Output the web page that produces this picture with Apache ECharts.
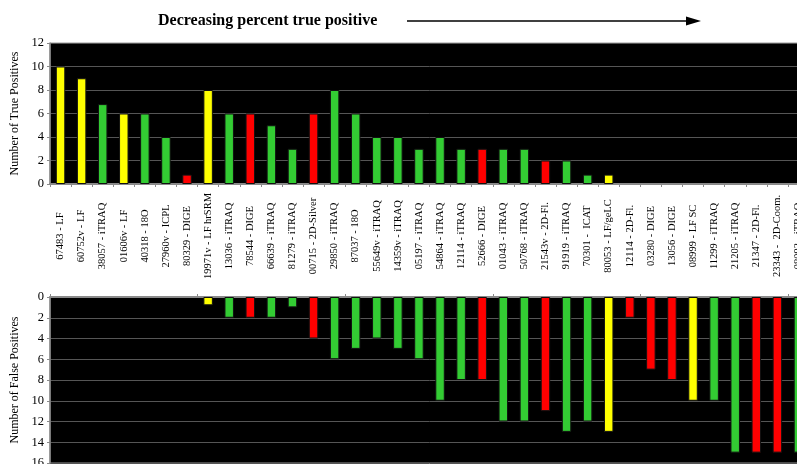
<!DOCTYPE html>
<html>
<head>
<meta charset="utf-8">
<script src="https://cdn.jsdelivr.net/npm/echarts@6/dist/echarts.min.js"></script>
<style>
html,body{margin:0;padding:0;background:#fff;overflow:hidden;width:797px;height:464px;}
#c{width:830px;height:470px;}
</style>
</head>
<body>
<div id="c"></div>
<script>
const categories = [
  "67483 - LF","60752v - LF","38057 - iTRAQ","01606v - LF","40318 - 18O","27960v - ICPL",
  "80329 - DIGE","19971v - LF hrSRM","13036 - iTRAQ","78544 - DIGE","66639 - iTRAQ","81279 - iTRAQ",
  "00715 - 2D-Silver","29850 - iTRAQ","87037 - 18O","55649v - iTRAQ","14359v - iTRAQ","05197 - iTRAQ",
  "54864 - iTRAQ","12114 - iTRAQ","52666 - DIGE","01043 - iTRAQ","50768 - iTRAQ","21543v - 2D-Fl.",
  "91919 - iTRAQ","70301 -  ICAT","80053 - LF/geLC","12114 - 2D-Fl.","03280 - DIGE","13056 - DIGE",
  "08999 - LF SC","11299 - iTRAQ","21205 - iTRAQ","21347 - 2D-Fl.","23343 -  2D-Coom.","08093 - iTRAQ"
];
const colorGroup = [
  "Y","Y","G","Y","G","G","R","Y","G","R","G","G",
  "R","G","G","G","G","G","G","G","R","G","G","R",
  "G","G","Y","R","R","R","Y","G","G","R","R","G"
];
const truePositives = [
  10,9,6.8,6,6,4,0.8,8,6,6,5,3,
  6,8,6,4,4,3,4,3,3,3,3,2,
  2,0.8,0.8,0,0,0,0,0,0,0,0,0
];
const falsePositives = [
  0,0,0,0,0,0,0,0.8,2,2,2,1,
  4,6,5,4,5,6,10,8,8,12,12,11,
  13,12,13,2,7,8,10,10,15,15,15,15
];
const topTicks = [0,2,4,6,8,10,12];
const bottomTicks = [0,2,4,6,8,10,12,14,16];

const palette = {Y:"#ffff00", G:"#33cc33", R:"#ff0000"};
const serif = "'Liberation Serif','DejaVu Serif',serif";

function mk(vals){
  return vals.map((v,i)=>({value:v, itemStyle:{color:palette[colorGroup[i]], borderWidth: v===0?0:1}}));
}

const chart = echarts.init(document.getElementById('c'), null, {renderer:'canvas'});
const axisGray = "#8a8a8a";
chart.setOption({
  animation:false,
  backgroundColor:"#fff",
  grid:[
    {left:50, top:43, width:759, height:141, backgroundColor:"#000", show:true, borderWidth:1, borderColor:"#999"},
    {left:50, top:297, width:759, height:166, backgroundColor:"#000", show:true, borderWidth:1, borderColor:"#999"}
  ],
  graphic:[
    {type:'text', left:158, top:13, style:{text:"Decreasing percent true positive", font:"bold 16px "+serif, fill:"#000"}},
    {type:'line', shape:{x1:407,y1:21,x2:692,y2:21}, style:{stroke:"#000", lineWidth:1.3}},
    {type:'polygon', shape:{points:[[701,21],[686,16.5],[686,25.5]]}, style:{fill:"#000"}}
  ],
  xAxis:[
    {gridIndex:0, type:'category', data:categories, boundaryGap:true,
     axisLine:{show:true, lineStyle:{color:axisGray, width:2}},
     axisTick:{show:true, length:3, lineStyle:{color:axisGray}},
     axisLabel:{show:true, interval:0, rotate:90, align:'center', verticalAlign:'middle', margin:52,
                fontFamily:serif, fontSize:10.5, color:"#000"},
     splitLine:{show:false}},
    {gridIndex:1, type:'category', data:categories, boundaryGap:true, position:'top',
     axisLine:{show:true, lineStyle:{color:axisGray, width:2}},
     axisTick:{show:true, length:3, lineStyle:{color:axisGray}},
     axisLabel:{show:false}, splitLine:{show:false}}
  ],
  yAxis:[
    {gridIndex:0, type:'value', min:0, max:12, interval:2,
     name:"Number of True Positives", nameLocation:'middle', nameGap:28, nameRotate:90,
     nameTextStyle:{fontFamily:serif, fontSize:12, color:"#000"},
     axisLine:{show:true, lineStyle:{color:axisGray, width:1.5}},
     axisTick:{show:true, length:3, lineStyle:{color:axisGray}},
     axisLabel:{fontFamily:serif, fontSize:12.5, color:"#000", margin:6,
                formatter:v=>topTicks.includes(v)?String(v):""},
     splitLine:{show:true, lineStyle:{color:"#555", width:1}}},
    {gridIndex:1, type:'value', min:0, max:16, interval:2, inverse:true,
     name:"Number of False Positives", nameLocation:'middle', nameGap:28, nameRotate:90,
     nameTextStyle:{fontFamily:serif, fontSize:12, color:"#000"},
     axisLine:{show:true, lineStyle:{color:axisGray, width:1.5}},
     axisTick:{show:true, length:3, lineStyle:{color:axisGray}},
     axisLabel:{fontFamily:serif, fontSize:12.5, color:"#000", margin:6,
                formatter:v=>bottomTicks.includes(v)?String(v):""},
     splitLine:{show:true, lineStyle:{color:"#555", width:1}}}
  ],
  series:[
    {type:'bar', xAxisIndex:0, yAxisIndex:0, data:mk(truePositives), barWidth:'45%',
     itemStyle:{borderColor:"#111"}},
    {type:'bar', xAxisIndex:1, yAxisIndex:1, data:mk(falsePositives), barWidth:'45%',
     itemStyle:{borderColor:"#111"}}
  ]
});
</script>
</body>
</html>
